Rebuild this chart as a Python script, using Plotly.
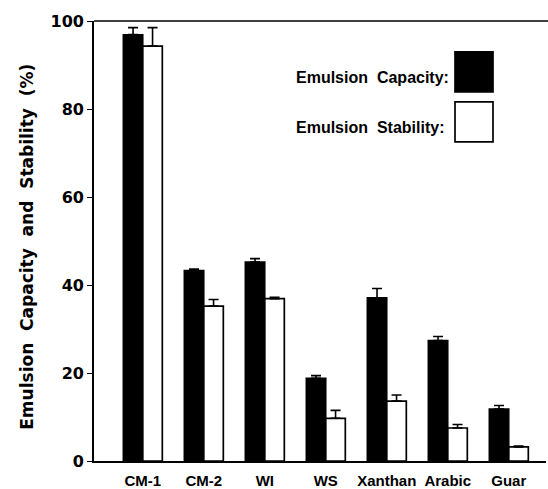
import plotly.graph_objects as go

# Emulsifying properties of the gum samples (%)
samples = ["CM-1", "CM-2", "WI", "WS", "Xanthan", "Arabic", "Guar"]
capacity = [96.9, 43.3, 45.2, 18.8, 37.1, 27.4, 11.8]
capacity_err = [1.6, 0.3, 0.8, 0.6, 2.1, 0.9, 0.8]
stability = [94.3, 35.2, 36.9, 9.7, 13.6, 7.5, 3.2]
stability_err = [4.2, 1.5, 0.3, 1.8, 1.4, 0.8, 0.2]
y_ticks = [0, 20, 40, 60, 80, 100]

series_names = ["Emulsion  Capacity:", "Emulsion  Stability:"]
y_title = "Emulsion  Capacity  and  Stability  (%)"

SANS = "Liberation Sans, Arial, sans-serif"
WIDE = "DejaVu Sans, sans-serif"
INK = "#000000"

fig = go.Figure()
fig.add_trace(go.Bar(
    x=samples, y=capacity, name=series_names[0],
    marker=dict(color=INK, line=dict(color=INK, width=1.5)),
    error_y=dict(type="data", array=capacity_err, symmetric=False,
                 arrayminus=[0] * len(samples), color=INK, thickness=1.6, width=5),
    showlegend=False,
))
fig.add_trace(go.Bar(
    x=samples, y=stability, name=series_names[1],
    marker=dict(color="#ffffff", line=dict(color=INK, width=1.7)),
    error_y=dict(type="data", array=stability_err, symmetric=False,
                 arrayminus=[0] * len(samples), color=INK, thickness=1.6, width=5),
    showlegend=False,
))

W, H = 548, 489
L, R, T, B = 94, 2, 21, 27.5
pw, ph = W - L - R, H - T - B

def px_x(x):
    return (x - L) / pw

def px_y(y):
    return (H - B - y) / ph

# Legend: labels with swatch boxes
legend_rows = [(78, 72, INK), (128, 122, "#ffffff")]
for (ty, by, fill), label in zip(legend_rows, series_names):
    fig.add_annotation(text="<b>" + label + "</b>", xref="paper", yref="paper",
                       x=px_x(294), y=px_y(ty), xanchor="left", yanchor="middle",
                       showarrow=False, font=dict(family=SANS, size=16, color=INK))
    fig.add_shape(type="rect", xref="paper", yref="paper",
                  x0=px_x(455), x1=px_x(493), y0=px_y(by - 20), y1=px_y(by + 20),
                  fillcolor=fill, line=dict(color=INK, width=1.7))

# Plot area is open on the right: blank strip along the page edge
fig.add_shape(type="rect", xref="paper", yref="paper", layer="above",
              x0=px_x(W - 5), x1=px_x(W + 6), y0=px_y(H - B - 2), y1=px_y(T + 2),
              fillcolor="#ffffff", line=dict(width=0))

# Top frame line of the plot area, running out to the page edge
fig.add_shape(type="line", xref="paper", yref="paper", x0=0, x1=px_x(W), y0=1, y1=1,
              line=dict(color=INK, width=1.5))

fig.add_annotation(text="<b>" + y_title + "</b>", xref="paper", yref="paper",
                   x=px_x(27), y=px_y(247), xanchor="center", yanchor="middle",
                   textangle=-90, showarrow=False,
                   font=dict(family=WIDE, size=17, color=INK))

fig.update_layout(
    width=W, height=H,
    margin=dict(l=L, r=R, t=T, b=B, pad=0, autoexpand=False),
    paper_bgcolor="#ffffff", plot_bgcolor="#ffffff",
    barmode="group", bargap=0.36, bargroupgap=0,
    font=dict(family=SANS, color=INK),
    xaxis=dict(
        type="category", range=[-0.8, 6.61], automargin=False,
        showline=True, linecolor=INK, linewidth=1.6,
        ticks="", showgrid=False, zeroline=False,
        tickfont=dict(family=SANS, size=15, color=INK, weight="bold"),
        ticklabelstandoff=5,
    ),
    yaxis=dict(
        range=[0, 100], tickvals=y_ticks, automargin=False,
        showline=True, linecolor=INK, linewidth=1.6,
        ticks="outside", ticklen=5, tickwidth=1.3, tickcolor=INK,
        showgrid=False, zeroline=False,
        tickfont=dict(family=WIDE, size=16, color=INK, weight="bold"),
    ),
)

fig.write_html("out.html", config={"displayModeBar": False})
